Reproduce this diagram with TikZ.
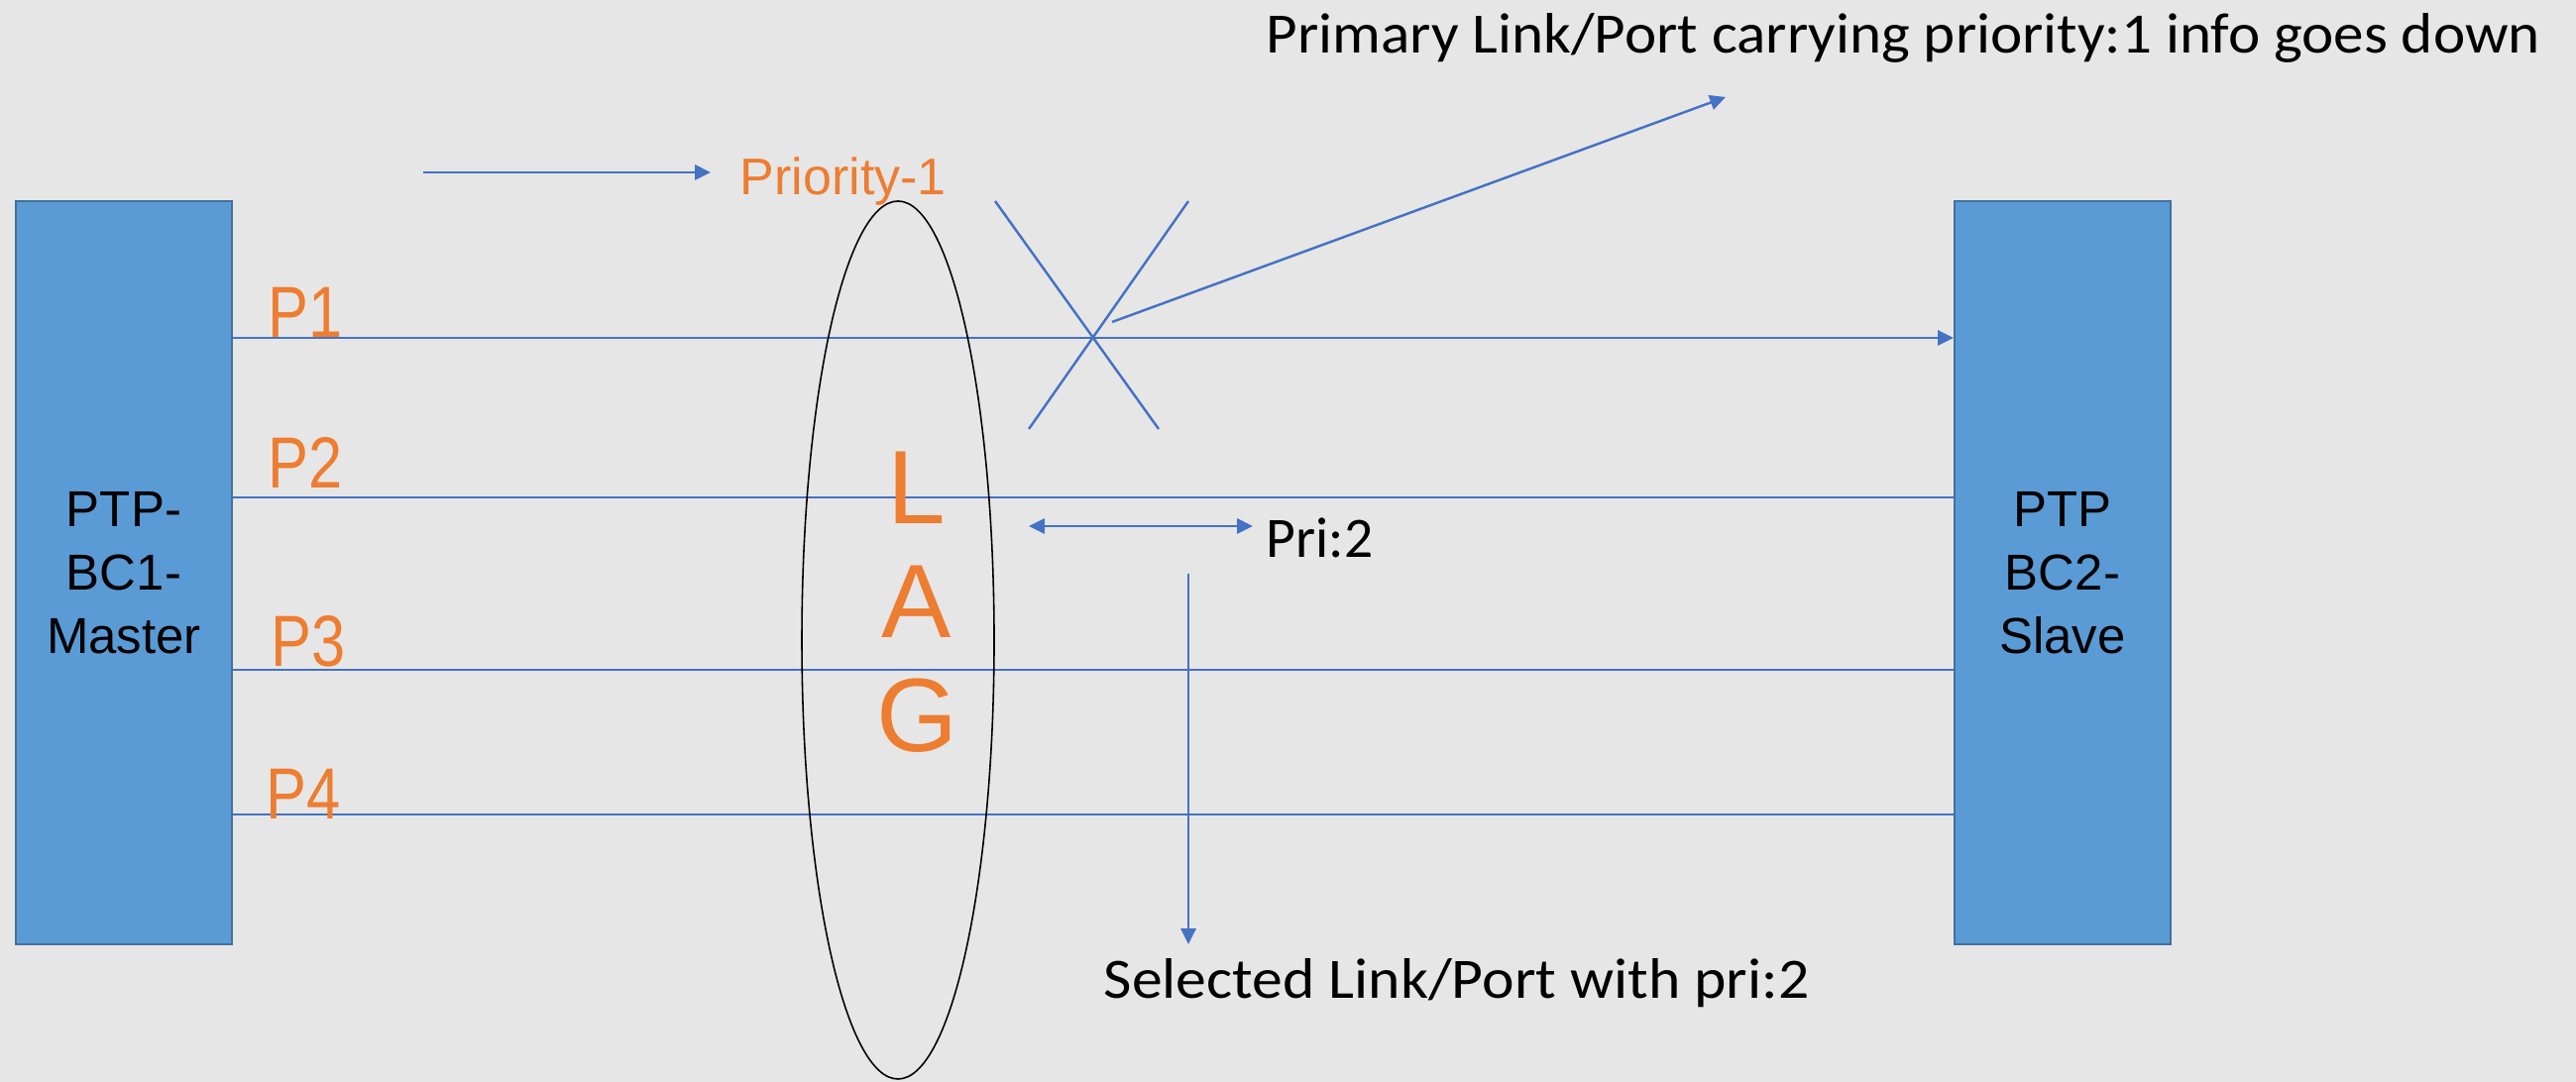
\documentclass[tikz,border=0pt]{standalone}
\usepackage{fontspec}
\setmainfont{Liberation Sans}
\newfontfamily\calibri{Carlito}
\newfontfamily\calibriwide[FakeStretch=1.06]{Carlito}
\newfontfamily\calibrimid[FakeStretch=1.07]{Carlito}
\newfontfamily\portfont[FakeStretch=0.84]{Liberation Sans}
\usetikzlibrary{arrows.meta,shapes.geometric}

\definecolor{slide}{HTML}{E7E6E6}
\definecolor{boxblue}{HTML}{5B9BD5}
\definecolor{boxedge}{HTML}{41719C}
\definecolor{linkblue}{HTML}{4472C4}
\definecolor{portorange}{HTML}{ED7D31}

\tikzset{
  bc/.style={rectangle, fill=boxblue, draw=boxedge, line width=0.6pt,
    minimum width=2.18cm, minimum height=7.5cm, inner sep=0pt,
    align=center, font=\fontsize{14.5}{18.2}\selectfont},
  link/.style={draw=linkblue, line width=0.7pt},
  tip/.style={-{Triangle[length=4.5pt,width=4.3pt]}},
  port/.style={anchor=base west, inner sep=0pt, text=portorange,
    font=\portfont\fontsize{20.8}{25}\selectfont},
  note/.style={anchor=base west, inner sep=0pt,
    font=\calibri\fontsize{16.4}{19}\selectfont},
}

\begin{document}
\begin{tikzpicture}
  \fill[slide] (0cm,0cm) rectangle (25.99cm,10.92cm);
  \useasboundingbox (0cm,0cm) rectangle (25.99cm,10.92cm);

  % the two boundary clocks
  \node[bc] (master) at (1.25cm,5.14cm) {PTP-\\BC1-\\Master};
  \node[bc] (slave) at (20.81cm,5.14cm) {PTP\\BC2-\\Slave};

  % the four LAG member links
  \draw[link,tip] (master.east |- 0,7.51cm) -- (slave.west |- 0,7.51cm);
  \draw[link] (master.east |- 0,5.90cm) -- (slave.west |- 0,5.90cm);
  \draw[link] (master.east |- 0,4.16cm) -- (slave.west |- 0,4.16cm);
  \draw[link] (master.east |- 0,2.70cm) -- (slave.west |- 0,2.70cm);
  \node[port] (p1) at (2.70cm,7.51cm) {P1};
  \node[port] (p2) at (2.70cm,5.99cm) {P2};
  \node[port] (p3) at (2.73cm,4.19cm) {P3};
  \node[port] (p4) at (2.68cm,2.65cm) {P4};

  % the bundle
  \node[ellipse, draw=black, line width=0.45pt, inner sep=0pt,
    minimum width=1.94cm, minimum height=8.86cm] (lag) at (9.06cm,4.46cm) {};
  \node[inner sep=0pt, align=center, text=portorange,
    font=\fontsize{30}{32.7}\selectfont] (lagtext) at (9.25cm,4.84cm) {L\\A\\G};

  % priority 1 marker
  \node[anchor=base west, inner sep=0pt, text=portorange,
    font=\fontsize{14.8}{18}\selectfont] (prio) at (7.46cm,8.95cm) {Priority-1};
  \coordinate (prioStart) at (4.27cm,9.18cm);
  \coordinate (prioEnd) at (7.17cm,9.18cm);
  \draw[link,tip] (prioStart) -- (prioEnd);

  % P1 goes down
  \coordinate (crossA) at (10.04cm,8.89cm);
  \coordinate (crossB) at (11.69cm,6.59cm);
  \coordinate (crossC) at (11.99cm,8.89cm);
  \coordinate (crossD) at (10.38cm,6.59cm);
  \draw[link] (crossA) -- (crossB);
  \draw[link] (crossC) -- (crossD);
  \node[note, font=\calibriwide\fontsize{16.4}{19}\selectfont] (down) at (12.77cm,10.38cm) {Primary Link/Port carrying priority:1 info goes down};
  \coordinate (downStart) at (11.22cm,7.67cm);
  \coordinate (downEnd) at (17.41cm,9.94cm);
  \draw[link,tip] (downStart) -- (downEnd);

  % P2 takes over
  \node[note] (pri) at (12.77cm,5.29cm) {Pri:2};
  \coordinate (priStart) at (10.38cm,5.61cm);
  \coordinate (priEnd) at (12.64cm,5.61cm);
  \draw[link,{Triangle[length=4.5pt,width=4.3pt]}-{Triangle[length=4.5pt,width=4.3pt]}] (priStart) -- (priEnd);
  \node[note, font=\calibrimid\fontsize{16.4}{19}\selectfont] (selected) at (11.13cm,0.84cm) {Selected Link/Port with pri:2};
  \coordinate (selStart) at (11.99cm,5.13cm);
  \coordinate (selEnd) at (11.99cm,1.39cm);
  \draw[link,tip] (selStart) -- (selEnd);
\end{tikzpicture}
\end{document}
